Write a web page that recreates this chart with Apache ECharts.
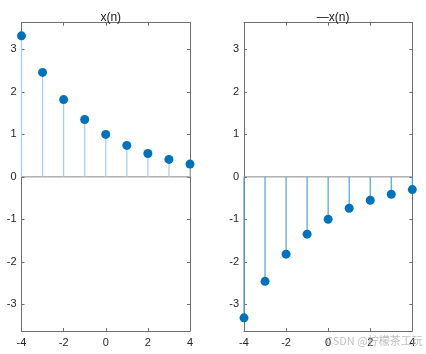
<!DOCTYPE html>
<html>
<head>
<meta charset="utf-8">
<script src="https://cdn.jsdelivr.net/npm/echarts@6/dist/echarts.min.js"></script>
<style>
  html, body { margin: 0; padding: 0; background: #fff; }
  #main { width: 426px; height: 354px; }
</style>
</head>
<body>
<div id="main"></div>
<script>
// 序列 n 与对应的取值
var nValues = [-4, -3, -2, -1, 0, 1, 2, 3, 4];
var xValues = [3.32, 2.46, 1.82, 1.35, 1.00, 0.74, 0.55, 0.41, 0.30];
var negXValues = [-3.32, -2.46, -1.82, -1.35, -1.00, -0.74, -0.55, -0.41, -0.30];
var yTickValues = [-3, -2, -1, 0, 1, 2, 3];
var titles = ['x(n)', '\u2014x(n)'];

var axisColor = '#6f6f6f';
var labelColor = '#262626';
var font = 'Liberation Sans, Arial, sans-serif';

var grids = [
    { left: 21.5, top: 22.7, width: 168.5, height: 308.3 },
    { left: 244, top: 22.7, width: 168.3, height: 308.3 }
];

function pairs(vals) {
    var out = [];
    for (var i = 0; i < nValues.length; i++) {
        out.push([nValues[i], vals[i]]);
    }
    return out;
}

var xAxes = [];
var yAxes = [];
var series = [];
var titleList = [];

function addPlot(idx, vals, stemColor) {
    // 下方 x 轴（带刻度标签）与上方镜像轴
    xAxes.push({
        gridIndex: idx, type: 'value', position: 'bottom', min: -4, max: 4, interval: 2,
        axisLine: { show: true, onZero: false, lineStyle: { color: axisColor, width: 1 } },
        axisTick: { show: true, inside: true, length: 3, lineStyle: { color: axisColor } },
        axisLabel: { color: labelColor, fontSize: 11, fontFamily: font, margin: 6 },
        splitLine: { show: false }
    });
    xAxes.push({
        gridIndex: idx, type: 'value', position: 'top', min: -4, max: 4, interval: 2,
        axisLine: { show: true, onZero: false, lineStyle: { color: axisColor, width: 1 } },
        axisTick: { show: true, inside: true, length: 3, lineStyle: { color: axisColor } },
        axisLabel: { show: false },
        splitLine: { show: false }
    });
    yAxes.push({
        gridIndex: idx, type: 'value', position: 'left', min: -3.63, max: 3.63,
        axisLine: { show: true, onZero: false, lineStyle: { color: axisColor, width: 1 } },
        axisTick: { show: true, inside: true, length: 3, customValues: yTickValues, lineStyle: { color: axisColor } },
        axisLabel: { color: labelColor, fontSize: 11, fontFamily: font, margin: 5, customValues: yTickValues },
        splitLine: { show: false }
    });
    yAxes.push({
        gridIndex: idx, type: 'value', position: 'right', min: -3.63, max: 3.63,
        axisLine: { show: true, onZero: false, lineStyle: { color: axisColor, width: 1 } },
        axisTick: { show: true, inside: true, length: 3, customValues: yTickValues, lineStyle: { color: axisColor } },
        axisLabel: { show: false },
        splitLine: { show: false }
    });

    var xi = idx * 2;
    var yi = idx * 2;

    // 零基线
    series.push({
        type: 'line', xAxisIndex: xi, yAxisIndex: yi,
        data: [[-4, 0], [4, 0]], symbol: 'none', silent: true,
        lineStyle: { color: '#8a8a8a', width: 1 }, z: 1
    });

    // 茎线
    series.push({
        type: 'custom', xAxisIndex: xi, yAxisIndex: yi,
        data: pairs(vals), clip: false, z: 2,
        renderItem: function (params, api) {
            var p0 = api.coord([api.value(0), 0]);
            var p1 = api.coord([api.value(0), api.value(1)]);
            return {
                type: 'line',
                shape: { x1: p0[0], y1: p0[1], x2: p1[0], y2: p1[1] },
                style: { stroke: stemColor, lineWidth: 1.2 }
            };
        }
    });

    // 圆点
    series.push({
        type: 'scatter', xAxisIndex: xi, yAxisIndex: yi,
        data: pairs(vals), symbol: 'circle', symbolSize: 9, clip: false, z: 3,
        itemStyle: { color: '#0072BD', opacity: 1 }
    });

    var g = grids[idx];
    titleList.push({
        text: titles[idx],
        left: g.left + g.width / 2, top: 7, textAlign: 'center',
        textStyle: { color: '#1a1a1a', fontSize: 12, fontWeight: 'normal', fontFamily: font }
    });
}

addPlot(0, xValues, '#a3cdeb');
addPlot(1, negXValues, '#4da3dc');

var myChart = echarts.init(document.getElementById('main'), null, { renderer: 'canvas' });
myChart.setOption({
    animation: false,
    backgroundColor: '#ffffff',
    title: titleList,
    grid: grids,
    xAxis: xAxes,
    yAxis: yAxes,
    series: series,
    graphic: [{
        type: 'text', left: 326, top: 335, z: 100,
        style: { text: 'CSDN @柠檬茶工玩', fill: 'rgba(170,170,170,0.75)', fontSize: 11, fontFamily: 'Noto Sans CJK SC, sans-serif' }
    }]
});
</script>
</body>
</html>
